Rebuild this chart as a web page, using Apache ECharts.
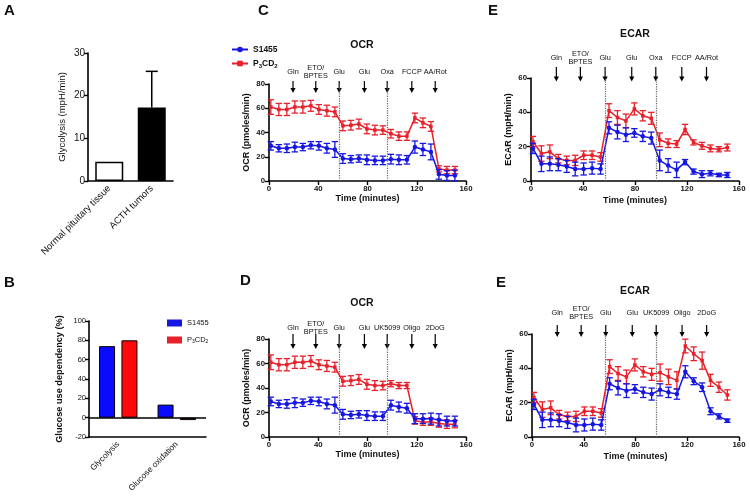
<!DOCTYPE html>
<html lang="en">
<head>
<meta charset="UTF-8">
<title>Glucose dependency</title>
<script src="https://cdn.jsdelivr.net/npm/echarts@6/dist/echarts.min.js"></script>
<style>html,body{margin:0;padding:0;background:#fff}</style>
</head>
<body>
<div id="main" style="width:750px;height:501px;"></div>
<script type="text/javascript">
// ---- data ----
// panel A
var aCategories = ['Normal pituitary tissue', 'ACTH tumors'];
var aValues = [4.5, 17.2];
var aErrors = [0, 8.5];

// panel B
var bCategories = ['Glycolysis', 'Glucose oxidation'];
var bS1455 = [74, 13.5];
var bP3CD2 = [80, -2.5];

// seahorse measurement times (minutes)
var times = [1.5, 8, 14.5, 21, 27.5, 34, 40.5, 47, 53.5, 60, 66.5, 73,
             79.5, 86, 92.5, 99, 105.5, 112, 118.5, 125, 131.5, 138, 144.5, 151];

// C: OCR
var cBlue    = [29, 27, 27, 28, 28, 29.5, 29, 27, 26, 18.5, 18, 18.5, 17.5, 17, 17, 18, 17.5, 17.5, 28, 26, 24, 5.5, 4.5, 4.5];
var cBlueErr = [3.5, 3, 3.5, 4, 3, 3, 3.5, 4, 6.5, 4, 3, 3, 4, 3.5, 3.5, 4, 4, 3.5, 5, 5, 6.5, 4, 4, 4.5];
var cRed     = [61, 59, 59, 61, 61, 62, 59, 58, 57, 45.5, 46, 47, 43, 42, 42, 39, 37, 37, 52, 48, 45, 10, 9, 9];
var cRedErr  = [6, 5, 5, 5, 5, 4.5, 4, 4.5, 4, 4, 4, 4, 4, 4, 3.5, 3.5, 3.5, 3.5, 4, 4, 4, 2.5, 3, 3];

// D: OCR
var dBlue    = [29, 27, 27, 28, 28, 29.5, 29, 27, 26, 18.5, 18, 18.5, 17.5, 17, 17, 26, 24.5, 23.5, 15, 15, 15, 14, 13, 13];
var dBlueErr = [3.5, 3, 3.5, 4, 3, 3, 3.5, 4, 6.5, 4, 3, 3, 4, 3.5, 3.5, 4, 4, 4, 4, 4, 4.5, 5, 4, 4];
var dRed     = [61, 59, 59, 61, 61, 62, 59, 58, 57, 45.5, 46, 47, 43, 42, 42, 43.5, 42, 42, 13.5, 12, 12.5, 11, 10.5, 10.5];
var dRedErr  = [6, 5, 5, 5, 5, 4.5, 4, 4.5, 4, 4, 4, 4, 4, 4, 3.5, 2.5, 2.5, 2.5, 3, 2.5, 3, 3, 3.5, 3];

// E (top): ECAR
var eBlue    = [19, 10, 10, 9.5, 8.5, 7, 7, 7.5, 7, 31, 28.5, 27, 28, 26, 25, 12, 9, 6.5, 11, 5.5, 4, 4.5, 3.5, 3.5];
var eBlueErr = [3, 4.5, 4, 3.5, 3.5, 4, 3.5, 3.5, 3, 3.5, 4, 4, 2.5, 3, 3.5, 6, 4, 4.5, 1.5, 1.5, 2, 1.5, 1, 1.5];
var eRed     = [23, 16, 17, 13, 12, 12, 15, 15, 14, 41, 37, 35, 42, 38, 36.5, 24, 22, 21.5, 30, 22.5, 20.5, 19, 18.5, 19.5];
var eRedErr  = [3, 4.5, 4, 2.5, 2.5, 3, 2.5, 2.5, 2.5, 4, 4, 4, 3.5, 3, 3.5, 4, 2.5, 2, 3, 1.5, 2, 2, 1.5, 2];

// E (bottom): ECAR
var fBlue    = [19, 10, 10, 9.5, 8.5, 7, 7, 7.5, 7, 31, 28.5, 27, 28, 26, 25, 27.5, 26, 25, 38, 32.5, 29, 15, 12, 9.5];
var fBlueErr = [3, 4.5, 4, 3.5, 3.5, 4, 3.5, 3.5, 3, 3.5, 4, 4, 2.5, 3, 3.5, 3.5, 3, 3, 3.5, 2, 2.5, 2, 1.5, 1];
var fRed     = [23, 16, 17, 13, 12, 12, 15, 15, 14, 41, 37, 35, 42, 38, 36.5, 37.5, 35, 33, 53, 48.5, 44.5, 33, 29, 24.5];
var fRedErr  = [3, 4.5, 4, 2.5, 2.5, 3, 2.5, 2.5, 2.5, 4, 4, 4, 3.5, 3, 3.5, 5, 4.5, 5, 4, 4, 5, 3.5, 3, 3];

// injections
var injectTimes = [19.5, 38, 57, 77.5, 96, 116, 135];
var ocrInjections = ['Gln', 'ETO/\nBPTES', 'Glu', 'Glu', 'Oxa', 'FCCP', 'AA/Rot'];
var inhibInjections = ['Gln', 'ETO/\nBPTES', 'Glu', 'Glu', 'UK5099', 'Oligo', '2DoG'];
var dividerTimes = [57, 96];

// ---- chart ----
var chart = echarts.init(document.getElementById('main'));
var FONT = '"Liberation Sans", Arial, sans-serif';
var BLUE = '#1616e2';
var RED = '#e8202a';

function axisLineStyle() {
    return {show: true, lineStyle: {color: '#000', width: 1.6}};
}

function pairs(vals) {
    return times.map(function (t, i) { return [t, vals[i]]; });
}

function errData(vals, errs) {
    return times.map(function (t, i) { return [t, vals[i] - errs[i], vals[i] + errs[i]]; });
}

function errSeries(idx, data, color, z) {
    return {
        type: 'custom', xAxisIndex: idx, yAxisIndex: idx, z: z, silent: true,
        data: data,
        renderItem: function (params, api) {
            var top = api.coord([api.value(0), api.value(2)]);
            var bot = api.coord([api.value(0), api.value(1)]);
            var w = 3.2;
            var st = {stroke: color, lineWidth: 1.3};
            return {type: 'group', children: [
                {type: 'line', shape: {x1: top[0], y1: top[1], x2: bot[0], y2: bot[1]}, style: st},
                {type: 'line', shape: {x1: top[0] - w, y1: top[1], x2: top[0] + w, y2: top[1]}, style: st},
                {type: 'line', shape: {x1: bot[0] - w, y1: bot[1], x2: bot[0] + w, y2: bot[1]}, style: st}
            ]};
        }
    };
}

var grids = [
    {left: 88, top: 53, width: 85, height: 128},     // A
    {left: 89, top: 321, width: 117, height: 116},   // B
    {left: 269, top: 84, width: 197, height: 97},    // C
    {left: 269, top: 339, width: 197, height: 98},   // D
    {left: 531, top: 78, width: 208, height: 103},   // E top
    {left: 532, top: 334, width: 207, height: 103}   // E bottom
];

var xAxes = [
    {gridIndex: 0, type: 'category', data: aCategories, axisLine: axisLineStyle(),
     axisTick: {alignWithLabel: true, length: 4, lineStyle: {color: '#000', width: 1.4}},
     axisLabel: {rotate: 45, fontSize: 9.5, color: '#111', fontFamily: FONT, margin: 6, interval: 0}},
    {gridIndex: 1, type: 'category', data: bCategories, axisLine: {show: true, onZero: false, lineStyle: {color: '#000', width: 1.6}},
     axisTick: {alignWithLabel: true, length: 4, lineStyle: {color: '#000', width: 1.4}},
     axisLabel: {rotate: 45, fontSize: 8.3, color: '#111', fontFamily: FONT, margin: 6, interval: 0}}
];
var yAxes = [
    {gridIndex: 0, type: 'value', min: 0, max: 30, interval: 10, axisLine: axisLineStyle(),
     axisTick: {show: true, length: 4, lineStyle: {color: '#000', width: 1.4}}, splitLine: {show: false},
     axisLabel: {fontSize: 10, color: '#111', fontFamily: FONT, margin: 3},
     name: 'Glycolysis (mpH/min)', nameLocation: 'middle', nameGap: 21,
     nameTextStyle: {fontSize: 9.5, color: '#111', fontFamily: FONT}},
    {gridIndex: 1, type: 'value', min: -20, max: 100, interval: 20, axisLine: axisLineStyle(),
     axisTick: {show: true, length: 4, lineStyle: {color: '#000', width: 1.4}}, splitLine: {show: false},
     axisLabel: {fontSize: 7.5, color: '#111', fontFamily: FONT, margin: 3},
     name: 'Glucose use dependency (%)', nameLocation: 'middle', nameGap: 25,
     nameTextStyle: {fontSize: 9.2, fontWeight: 'bold', color: '#111', fontFamily: FONT}}
];

var seahorse = [
    {idx: 2, max: 80, yname: 'OCR (pmoles/min)', xgap: 13, blue: cBlue, blueErr: cBlueErr, red: cRed, redErr: cRedErr},
    {idx: 3, max: 80, yname: 'OCR (pmoles/min)', xgap: 13, blue: dBlue, blueErr: dBlueErr, red: dRed, redErr: dRedErr},
    {idx: 4, max: 60, yname: 'ECAR (mpH/min)', xgap: 15, blue: eBlue, blueErr: eBlueErr, red: eRed, redErr: eRedErr},
    {idx: 5, max: 60, yname: 'ECAR (mpH/min)', xgap: 15, blue: fBlue, blueErr: fBlueErr, red: fRed, redErr: fRedErr}
];

var series = [];
seahorse.forEach(function (p) {
    xAxes.push({gridIndex: p.idx, type: 'value', min: 0, max: 160, interval: 40, axisLine: axisLineStyle(),
        axisTick: {show: true, length: 4, lineStyle: {color: '#000', width: 1.4}}, splitLine: {show: false},
        axisLabel: {fontSize: 7.8, fontWeight: 'bold', color: '#111', fontFamily: FONT, margin: 4},
        name: 'Time (minutes)', nameLocation: 'middle', nameGap: p.xgap,
        nameTextStyle: {fontSize: 9, fontWeight: 'bold', color: '#111', fontFamily: FONT}});
    yAxes.push({gridIndex: p.idx, type: 'value', min: 0, max: p.max, interval: 20, axisLine: axisLineStyle(),
        axisTick: {show: true, length: 4, lineStyle: {color: '#000', width: 1.4}}, splitLine: {show: false},
        axisLabel: {fontSize: 7.8, fontWeight: 'bold', color: '#111', fontFamily: FONT, margin: 4},
        name: p.yname, nameLocation: 'middle', nameGap: 18,
        nameTextStyle: {fontSize: 9, fontWeight: 'bold', color: '#111', fontFamily: FONT}});
    series.push({
        type: 'line', name: 'S1455', xAxisIndex: p.idx, yAxisIndex: p.idx, data: pairs(p.blue),
        symbol: 'circle', symbolSize: 4.5, itemStyle: {color: BLUE}, lineStyle: {color: BLUE, width: 1.5}, z: 4,
        markLine: {silent: true, symbol: 'none', label: {show: false},
            lineStyle: {color: '#666', type: 'dotted', width: 1.2},
            data: dividerTimes.map(function (t) { return {xAxis: t}; })}
    });
    series.push({
        type: 'line', name: 'P3CD2', xAxisIndex: p.idx, yAxisIndex: p.idx, data: pairs(p.red),
        symbol: 'rect', symbolSize: 3.5, itemStyle: {color: RED}, lineStyle: {color: RED, width: 1.5}, z: 3
    });
    series.push(errSeries(p.idx, errData(p.blue, p.blueErr), BLUE, 4));
    series.push(errSeries(p.idx, errData(p.red, p.redErr), RED, 3));
});

// panel A bars
series.push({
    type: 'bar', name: 'Glycolysis', xAxisIndex: 0, yAxisIndex: 0, barWidth: 28,
    data: aValues.map(function (v, i) {
        return {value: v, itemStyle: {color: i === 0 ? '#fff' : '#000', borderColor: '#000', borderWidth: 1.5}};
    })
});
series.push({
    type: 'custom', xAxisIndex: 0, yAxisIndex: 0, silent: true, z: 1,
    data: aValues.map(function (v, i) { return [i, v, v + aErrors[i]]; }),
    renderItem: function (params, api) {
        if (api.value(2) <= api.value(1)) return null;
        var top = api.coord([api.value(0), api.value(2)]);
        var bot = api.coord([api.value(0), api.value(1)]);
        var st = {stroke: '#000', lineWidth: 1.5};
        return {type: 'group', children: [
            {type: 'line', shape: {x1: top[0], y1: top[1], x2: bot[0], y2: bot[1]}, style: st},
            {type: 'line', shape: {x1: top[0] - 6, y1: top[1], x2: top[0] + 6, y2: top[1]}, style: st}
        ]};
    }
});

// panel B bars
series.push({
    type: 'bar', name: 'S1455', xAxisIndex: 1, yAxisIndex: 1, barWidth: 16, barGap: '40%',
    data: bS1455, itemStyle: {color: '#0a0aff', borderColor: '#000', borderWidth: 1},
    markLine: {silent: true, symbol: 'none', label: {show: false},
        lineStyle: {color: '#000', type: 'solid', width: 1.6}, data: [{yAxis: 0}]}
});
series.push({
    type: 'bar', name: 'P3CD2', xAxisIndex: 1, yAxisIndex: 1, barWidth: 16, barGap: '40%',
    data: bP3CD2, itemStyle: {color: '#ff0a0a', borderColor: '#000', borderWidth: 1}
});

function legendName(n) {
    return n === 'P3CD2' ? 'P{sub|3}CD{sub|2}' : n;
}

var option = {
    animation: false,
    backgroundColor: '#fff',
    grid: grids,
    xAxis: xAxes,
    yAxis: yAxes,
    legend: [
        {data: ['S1455', 'P3CD2'], orient: 'vertical', left: 226, top: 40, itemWidth: 16, itemHeight: 7, itemGap: 5,
         selectedMode: false, formatter: legendName,
         textStyle: {fontSize: 8.5, fontWeight: 'bold', color: '#111', fontFamily: FONT,
             rich: {sub: {fontSize: 6, fontWeight: 'bold', fontFamily: FONT, verticalAlign: 'bottom', padding: [5, 0, 0, 0]}}}},
        {data: ['S1455', 'P3CD2'], orient: 'vertical', left: 162, top: 314, icon: 'rect', itemWidth: 15, itemHeight: 7, itemGap: 9,
         selectedMode: false, formatter: legendName,
         textStyle: {fontSize: 7.5, color: '#111', fontFamily: FONT,
             rich: {sub: {fontSize: 5, fontFamily: FONT, verticalAlign: 'bottom', padding: [4, 0, 0, 0]}}}}
    ],
    series: series
};
chart.setOption(option);

// ---- annotations: panel letters, titles, injection arrows ----
function txt(x, y, s, size, bold, align) {
    return {type: 'text', x: x, y: y, silent: true,
        style: {text: s, fill: '#111', font: (bold ? 'bold ' : '') + size + 'px ' + FONT,
            textAlign: align || 'left', textVerticalAlign: 'middle', align: align || 'left', verticalAlign: 'middle'}};
}

var graphics = [
    txt(4, 11, 'A', 15, true), txt(4, 283, 'B', 15, true), txt(258, 11, 'C', 15, true),
    txt(240, 281, 'D', 15, true), txt(488, 11, 'E', 15, true), txt(496, 283, 'E', 15, true),
    txt(362, 45, 'OCR', 10.5, true, 'center'), txt(362, 303, 'OCR', 10.5, true, 'center'),
    txt(635, 34, 'ECAR', 10.5, true, 'center'), txt(635, 291, 'ECAR', 10.5, true, 'center')
];

var arrowRows = [
    {idx: 2, labels: ocrInjections, labelY: 72, y0: 81, y1: 93},
    {idx: 3, labels: inhibInjections, labelY: 328, y0: 334, y1: 349},
    {idx: 4, labels: ocrInjections, labelY: 57.5, y0: 67, y1: 81.5},
    {idx: 5, labels: inhibInjections, labelY: 313, y0: 325, y1: 337}
];
arrowRows.forEach(function (row) {
    injectTimes.forEach(function (t, i) {
        var x = chart.convertToPixel({xAxisIndex: row.idx}, t);
        graphics.push({type: 'group', silent: true, children: [
            {type: 'line', shape: {x1: x, y1: row.y0, x2: x, y2: row.y1 - 4}, style: {stroke: '#000', lineWidth: 1.2}},
            {type: 'polygon', shape: {points: [[x - 2.6, row.y1 - 5], [x + 2.6, row.y1 - 5], [x, row.y1]]}, style: {fill: '#000'}}
        ]});
        var g = txt(x, row.labelY, row.labels[i], 7.3, false, 'center');
        g.style.lineHeight = 8;
        graphics.push(g);
    });
});

chart.setOption({graphic: graphics});
</script>
</body>
</html>
